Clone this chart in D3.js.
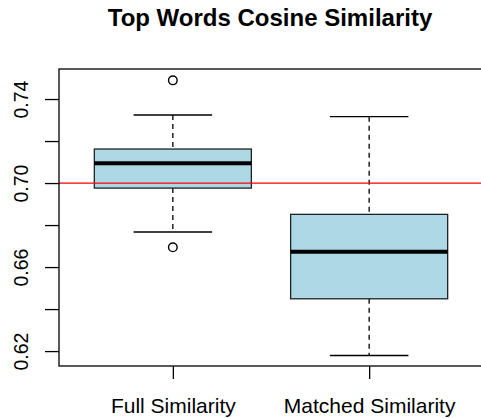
<!DOCTYPE html>
<html>
<head>
<meta charset="utf-8">
<script src="https://cdn.jsdelivr.net/npm/d3@7"></script>
<style>
  html, body { margin: 0; padding: 0; background: #fff; }
  svg { display: block; }
  text { font-family: "Liberation Sans", Arial, Helvetica, sans-serif; fill: #000; }
</style>
</head>
<body>
<svg id="chart" width="481" height="418"></svg>
<script>
// ---- data ----
const categories = ["Full Similarity", "Matched Similarity"];
const whiskerLow  = [0.6767, 0.6179];
const q1          = [0.6976, 0.6449];
const medians     = [0.7094, 0.6673];
const q3          = [0.7162, 0.6851];
const whiskerHigh = [0.7324, 0.7316];
const outliers    = [[0.7489, 0.6694], []];
const yTicks      = [0.62, 0.64, 0.66, 0.68, 0.70, 0.72, 0.74];
const yTickLabels = ["0.62", "", "0.66", "", "0.70", "", "0.74"];
const refLine     = 0.70;
const title       = "Top Words Cosine Similarity";

// ---- layout ----
const svg = d3.select("#chart");
const pLeft = 59, pRight = 483, pTop = 69, pBottom = 366;

const x = d3.scalePoint().domain(categories).range([pLeft, pRight]).padding(0.58);
const y = d3.scaleLinear().domain([0.6129, 0.7543]).range([pBottom, pTop]);
const boxW = x.step() * 0.8;
const capW = boxW / 2;

// title
svg.append("text")
  .attr("x", (pLeft + pRight) / 2 - 1).attr("y", 26)
  .attr("text-anchor", "middle")
  .style("font-weight", "bold").style("font-size", "24px")
  .text(title);

const data = categories.map((c, i) => ({
  c, lo: whiskerLow[i], q1: q1[i], med: medians[i], q3: q3[i], hi: whiskerHigh[i], out: outliers[i]
}));

const g = svg.append("g");
const boxes = g.selectAll("g.box").data(data).join("g").attr("class", "box");

// whiskers (dashed)
boxes.append("line")
  .attr("x1", d => x(d.c)).attr("x2", d => x(d.c))
  .attr("y1", d => y(d.hi)).attr("y2", d => y(d.q3))
  .attr("stroke", "#000").attr("stroke-width", 1.3).attr("stroke-dasharray", "5,4");
boxes.append("line")
  .attr("x1", d => x(d.c)).attr("x2", d => x(d.c))
  .attr("y1", d => y(d.q1)).attr("y2", d => y(d.lo))
  .attr("stroke", "#000").attr("stroke-width", 1.3).attr("stroke-dasharray", "5,4");
// caps
["hi", "lo"].forEach(k => {
  boxes.append("line")
    .attr("x1", d => x(d.c) - capW / 2).attr("x2", d => x(d.c) + capW / 2)
    .attr("y1", d => y(d[k])).attr("y2", d => y(d[k]))
    .attr("stroke", "#000").attr("stroke-width", 1.3);
});
// box
boxes.append("rect")
  .attr("x", d => x(d.c) - boxW / 2).attr("width", boxW)
  .attr("y", d => y(d.q3)).attr("height", d => y(d.q1) - y(d.q3))
  .attr("fill", "#ADD8E6").attr("stroke", "#222").attr("stroke-width", 1.3);
// median
boxes.append("line")
  .attr("x1", d => x(d.c) - boxW / 2).attr("x2", d => x(d.c) + boxW / 2)
  .attr("y1", d => y(d.med)).attr("y2", d => y(d.med))
  .attr("stroke", "#000").attr("stroke-width", 4);
// outliers
boxes.selectAll("circle").data(d => d.out.map(v => ({c: d.c, v}))).join("circle")
  .attr("cx", d => x(d.c)).attr("cy", d => y(d.v)).attr("r", 4.3)
  .attr("fill", "none").attr("stroke", "#000").attr("stroke-width", 1.4);

// reference line
svg.append("line")
  .attr("x1", pLeft).attr("x2", pRight)
  .attr("y1", y(refLine)).attr("y2", y(refLine))
  .attr("stroke", "#FF0000").attr("stroke-width", 1.3);

// frame
svg.append("rect")
  .attr("x", pLeft).attr("y", pTop).attr("width", pRight - pLeft).attr("height", pBottom - pTop)
  .attr("fill", "none").attr("stroke", "#000").attr("stroke-width", 1.3);

// y axis
const yAxis = d3.axisLeft(y).tickValues(yTicks).tickSize(14).tickSizeOuter(0)
  .tickFormat((d, i) => yTickLabels[i]);
const ya = svg.append("g").attr("transform", `translate(${pLeft},0)`).call(yAxis);
ya.select(".domain").remove();
ya.selectAll(".tick line").attr("stroke", "#000").attr("stroke-width", 1.3);
ya.selectAll(".tick text")
  .attr("x", null).attr("dy", null)
  .attr("transform", "translate(-31,0) rotate(-90)")
  .attr("text-anchor", "middle")
  .style("font-size", "19.5px").style("font-family", "'Liberation Sans', Arial, sans-serif");

// x axis
const xAxis = d3.axisBottom(x).tickSize(13).tickSizeOuter(0);
const xa = svg.append("g").attr("transform", `translate(0,${pBottom})`).call(xAxis);
xa.select(".domain").remove();
xa.selectAll(".tick line").attr("stroke", "#000").attr("stroke-width", 1.3);
xa.selectAll(".tick text")
  .attr("y", 47).attr("dy", null)
  .style("font-size", "21px").style("font-family", "'Liberation Sans', Arial, sans-serif");
</script>
</body>
</html>
